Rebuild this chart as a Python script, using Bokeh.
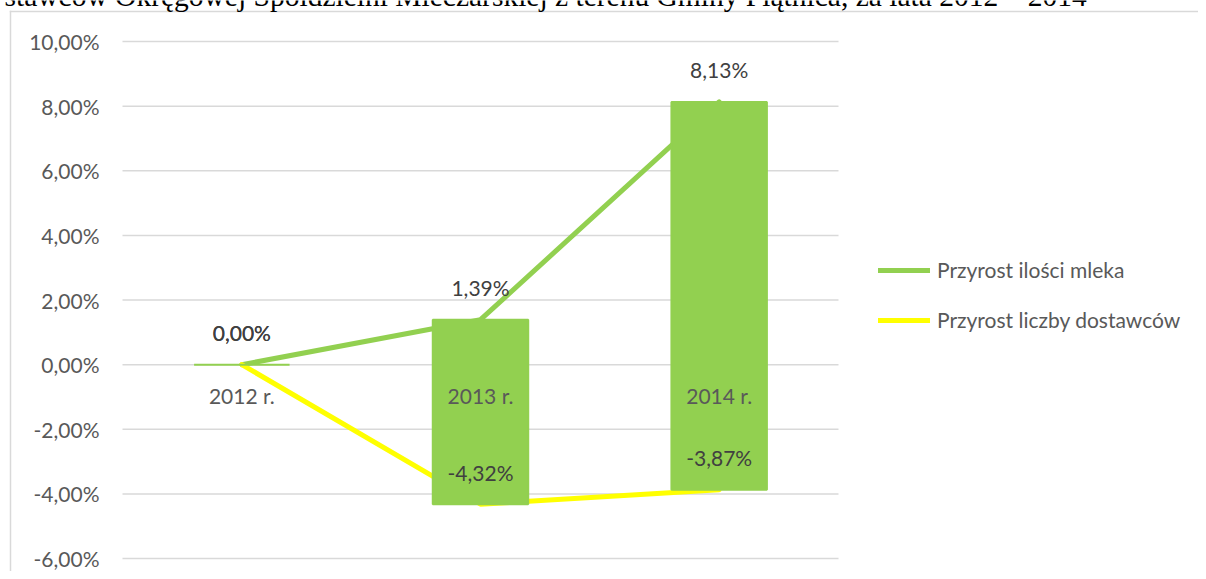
from bokeh.plotting import figure
from bokeh.models import Legend, LegendItem, Label, Range1d, ColumnDataSource
from bokeh.core.properties import value
from bokeh.embed import file_html
from bokeh.resources import INLINE

# ---- data ----
categories = ["2012 r.", "2013 r.", "2014 r."]
milk_growth = [0.00, 1.39, 8.13]
suppliers_growth = [0.00, -4.32, -3.87]
milk_labels = ["0,00%", "1,39%", "8,13%"]
suppliers_labels = ["0,00%", "-4,32%", "-3,87%"]
series_names = ["Przyrost ilości mleka", "Przyrost liczby dostawców"]
y_ticks = [-6, -4, -2, 0, 2, 4, 6, 8, 10]
y_tick_labels = ["-6,00%", "-4,00%", "-2,00%", "0,00%", "2,00%",
                 "4,00%", "6,00%", "8,00%", "10,00%"]
title_text = ("stawców Okręgowej Spółdzielni Mleczarskiej z terenu Gminy Płątnica, "
              "za lata 2012 – 2014")

GREEN = "#92D050"
YELLOW = "#FFFF00"
FONT = "Lato"

n = len(categories)
x_pos = [i + 0.5 for i in range(n)]

W, H = 1198, 571
# plot area 122..838 px wide for 0..n, 10 -> 41 px, -6 -> 558 px
px_x = (838 - 122) / n
px_y = (558 - 41) / (y_ticks[-1] - y_ticks[0])
x_range = Range1d(-122 / px_x, (W - 122) / px_x)
y_range = Range1d(y_ticks[0] - (H - 558) / px_y, y_ticks[-1] + 41 / px_y)


def cx(px):
    return x_range.start + px / px_x


def cy(px):
    return y_range.end - px / px_y


p = figure(width=W, height=H, x_range=x_range, y_range=y_range,
           output_backend="svg", toolbar_location=None,
           x_axis_location=None, y_axis_location=None, title=None,
           min_border=0, min_border_left=0, min_border_right=0,
           min_border_top=0, min_border_bottom=0)
p.outline_line_color = None
p.border_fill_color = "white"
p.background_fill_color = "white"
p.grid.visible = False

# chart-area border: only its left and top edges are inside the picture
p.quad(left=[cx(9.25), cx(9.25)], right=[cx(10.75), x_range.end],
       top=[cy(10.25), cy(10.25)], bottom=[y_range.start, cy(11.75)],
       fill_color="#D9D9D9", line_color=None)

# caption above the chart (cut at the top edge, as in the source)
cap = Label(x=4, y=-5, x_units="canvas", y_units="canvas", text=title_text,
            text_font="Liberation Serif", text_font_size="29.5px",
            text_baseline="alphabetic", text_color="black",
            border_line_color=None, background_fill_color=None)
p.add_layout(cap)

# horizontal gridlines and value-axis labels
p.segment(x0=0, x1=n, y0=y_ticks, y1=y_ticks, line_color="#D9D9D9", line_width=1.5)
p.text(x=0, y=y_ticks, text=y_tick_labels, x_offset=-23, text_align="right",
       text_baseline="middle", text_font=value(FONT), text_font_size="21px",
       text_color="#595959")

r1 = p.line(x_pos, milk_growth, line_color=GREEN, line_width=5,
            line_cap="round", line_join="round")
r2 = p.line(x_pos, suppliers_growth, line_color=YELLOW, line_width=5,
            line_cap="round", line_join="round")

tops = [max(a, b) for a, b in zip(milk_growth, suppliers_growth)]
bottoms = [min(a, b) for a, b in zip(milk_growth, suppliers_growth)]
bar_src = ColumnDataSource(dict(x=x_pos, top=tops, bottom=bottoms))
p.vbar(x="x", top="top", bottom="bottom", width=0.40, source=bar_src,
       fill_color=GREEN, line_color=GREEN, line_width=2)

for vals, labs in ((milk_growth, milk_labels), (suppliers_growth, suppliers_labels)):
    p.text(x=x_pos, y=vals, text=labs, text_align="center",
           text_baseline="middle", y_offset=-32,
           text_font=value(FONT), text_font_size="21px", text_color="#404040")

# category labels sit on the zero line
p.text(x=x_pos, y=0, text=categories, text_align="center",
       text_baseline="middle", y_offset=31,
       text_font=value(FONT), text_font_size="21px", text_color="#595959")

legend = Legend(items=[LegendItem(label=series_names[0], renderers=[r1]),
                       LegendItem(label=series_names[1], renderers=[r2])],
                location=(878, H - 332), orientation="vertical",
                glyph_width=52, glyph_height=20, label_height=20,
                spacing=25, label_standoff=7, padding=0, margin=0,
                border_line_color=None, background_fill_alpha=0,
                label_text_font=FONT, label_text_font_size="21px",
                label_text_color="#595959")
p.add_layout(legend)

open("out.html", "w").write(file_html(p, INLINE))
